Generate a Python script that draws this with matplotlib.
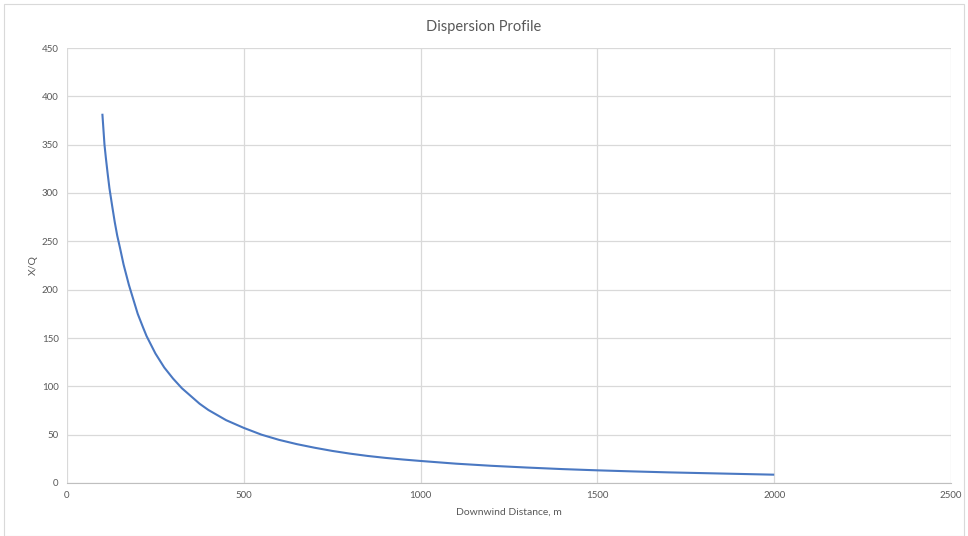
import matplotlib
matplotlib.use("Agg")
import matplotlib.pyplot as plt
from matplotlib.patches import Rectangle

distance = [100, 106, 110, 115, 120, 128, 135, 142, 150, 160, 175, 190, 200, 215, 225,
            250, 275, 300, 325, 350, 375, 400, 450, 500, 550, 600, 650, 700, 750,
            800, 850, 900, 950, 1000, 1100, 1200, 1300, 1400, 1500, 1600, 1700,
            1800, 1900, 2000]
xq = [382, 350, 336, 320, 305, 286, 270, 256, 243, 226, 205, 187, 175, 161, 152,
      134, 119.5, 108, 98, 90, 82, 75.5, 65, 57, 50, 44.6, 40.2, 36.5, 33.2,
      30.4, 28, 26.0, 24.3, 22.8, 20, 17.8, 16, 14.4, 13.1, 12.0, 11.0,
      10.2, 9.4, 8.6]
x_ticks = [0, 500, 1000, 1500, 2000, 2500]
y_ticks = [0, 50, 100, 150, 200, 250, 300, 350, 400, 450]

plt.rcParams['font.family'] = ['Lato', 'DejaVu Sans']
fig = plt.figure(figsize=(9.68, 5.36), dpi=100)
ax = fig.add_axes([67/968, 1-483/536, (951-67)/968, (483-48)/536])

ax.plot(distance, xq, color='#4a78c2', lw=1.5, solid_capstyle='butt',
        solid_joinstyle='round')
ax.set_xlim(0, 2500)
ax.set_ylim(0, 450)
ax.set_xticks(x_ticks)
ax.set_yticks(y_ticks)
ax.grid(True, color='#d9d9d9', lw=0.9)
ax.set_axisbelow(True)
for s in ['top', 'right', 'left']:
    ax.spines[s].set_visible(False)
ax.spines['bottom'].set_color('#bfbfbf')
ax.tick_params(length=0, labelsize=7, labelcolor='#595959', pad=6)
ax.set_xlabel('Downwind Distance, m', fontsize=7.5, color='#595959', labelpad=5)
ax.set_ylabel('X/Q', fontsize=7.5, color='#595959', labelpad=3)
fig.text(0.5, 1-27/536, 'Dispersion Profile', ha='center', va='center',
         fontsize=10.5, color='#595959')
fig.patches.append(Rectangle((4/968, 0), 1-8/968, 1-4/536, transform=fig.transFigure,
                             fill=False, edgecolor='#d9d9d9', lw=0.8))
fig.savefig('out.png', dpi=100)
